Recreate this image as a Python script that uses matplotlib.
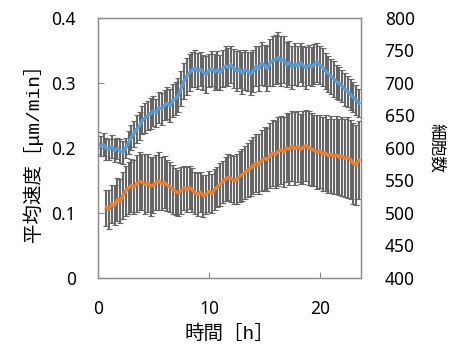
import numpy as np
import matplotlib
matplotlib.use("Agg")
import matplotlib.pyplot as plt

plt.rcParams['font.family'] = ['Noto Sans', 'Noto Sans CJK JP', 'DejaVu Sans']

# time axis [h], 15 min steps
t_speed = np.arange(0, 23.51, 0.25)
t_cells = np.arange(0.75, 23.51, 0.25)

# mean speed [um/min]
speed = [
    0.207, 0.203, 0.205, 0.199, 0.198, 0.202, 0.196, 0.199, 0.195, 0.193,
    0.200, 0.208, 0.216, 0.222, 0.229, 0.234, 0.243, 0.246, 0.250, 0.253,
    0.257, 0.254, 0.262, 0.260, 0.266, 0.269, 0.265, 0.273, 0.276, 0.281,
    0.292, 0.303, 0.310, 0.316, 0.320, 0.322, 0.318, 0.321, 0.316, 0.313,
    0.319, 0.322, 0.317, 0.320, 0.316, 0.322, 0.326, 0.324, 0.328, 0.322,
    0.318, 0.321, 0.315, 0.320, 0.318, 0.314, 0.318, 0.326, 0.322, 0.330,
    0.327, 0.322, 0.331, 0.334, 0.336, 0.339, 0.334, 0.336, 0.328, 0.331,
    0.324, 0.329, 0.326, 0.331, 0.326, 0.323, 0.328, 0.325, 0.329, 0.332,
    0.327, 0.324, 0.318, 0.314, 0.310, 0.306, 0.302, 0.299, 0.295, 0.290,
    0.287, 0.282, 0.278, 0.274, 0.269,
]
speed_err = [
    0.017, 0.016, 0.018, 0.017, 0.016, 0.018, 0.017, 0.016, 0.018, 0.017,
    0.016, 0.018, 0.019,
    0.020, 0.021, 0.022, 0.021, 0.023, 0.022, 0.024, 0.023, 0.022, 0.024,
    0.025, 0.023, 0.024, 0.025, 0.026, 0.025,
    0.026, 0.027, 0.028, 0.029, 0.028, 0.027, 0.029, 0.028, 0.026, 0.027,
    0.028, 0.026, 0.027, 0.028, 0.029, 0.027, 0.028, 0.030, 0.029, 0.028,
    0.030, 0.031, 0.029, 0.032, 0.031, 0.030, 0.033, 0.032, 0.031, 0.034,
    0.033, 0.032, 0.035, 0.036, 0.038, 0.037, 0.039, 0.038, 0.036, 0.035,
    0.034, 0.033, 0.032, 0.031, 0.030, 0.031, 0.032, 0.031, 0.030, 0.031,
    0.030, 0.029,
    0.029, 0.028, 0.028, 0.027, 0.027, 0.026, 0.026, 0.025, 0.025, 0.024,
    0.024, 0.023, 0.023, 0.022,
]

# cell count
cells = [
    508, 506, 514, 512, 521, 518, 527, 534, 538, 542,
    540, 545, 549, 547, 544, 546, 541, 543, 547, 549,
    545, 547, 542, 540, 536, 533, 531, 535, 538, 536,
    539, 535, 531, 528, 532, 526, 529, 533, 530, 536,
    540, 544, 548, 552, 555, 553, 550, 552, 556, 559,
    562, 566, 569, 573, 577, 575, 581, 584, 582, 588,
    592, 590, 595, 597, 594, 600, 598, 603, 599, 602,
    598, 601, 604, 600, 598, 596, 594, 595, 591, 592,
    588, 590, 587, 589, 586, 587, 584, 585, 582, 576,
    574, 581,
]
cells_err = [
    28, 30, 29, 31, 33, 34, 36, 38, 40, 41,
    42, 44, 45, 43, 46, 44, 45, 43, 42, 44, 41, 40, 39, 38, 37, 36,
    35, 36, 34, 35, 33, 34, 32, 33, 31, 32, 30, 31, 30, 32, 31, 33, 32, 34, 35, 36,
    37, 38, 39, 40, 41, 42, 43, 44, 45, 46, 47, 48, 49, 50, 51, 52,
    53, 52, 54, 53, 55, 54, 56, 55, 54, 56, 55, 57, 56, 55, 57, 56,
    57, 58, 57, 59, 58, 60, 59, 61, 60, 62, 61, 63, 62, 60,
]

BLUE = "#5B9BD5"
ORANGE = "#ED7D31"
ERR = "#666666"
FRAME = "#8C8C8C"

fig = plt.figure(figsize=(4.6, 3.44), dpi=100)
ax = fig.add_axes([0.213, 0.192, 0.572, 0.756])
ax2 = ax.twinx()

ax.errorbar(t_speed, speed, yerr=speed_err, fmt="none", ecolor=ERR,
            elinewidth=1.5, capsize=2.2, capthick=0.8, zorder=2)
ax.plot(t_speed, speed, color=BLUE, linewidth=2.4, zorder=3)

ax2.errorbar(t_cells, cells, yerr=cells_err, fmt="none", ecolor=ERR,
             elinewidth=1.5, capsize=2.2, capthick=0.8, zorder=2)
ax2.plot(t_cells, cells, color=ORANGE, linewidth=2.4, zorder=3)

ax.set_xlim(0, 23.7)
ax.set_ylim(0, 0.4)
ax2.set_ylim(400, 800)
ax.set_xticks([0, 10, 20])
ax.set_yticks([0, 0.1, 0.2, 0.3, 0.4])
ax.set_yticklabels(["0", "0.1", "0.2", "0.3", "0.4"])
ax2.set_yticks(np.arange(400, 801, 50))

ax.tick_params(axis="both", direction="in", length=4, width=0.8, color=FRAME,
               labelsize=12.5, pad=16)
ax2.tick_params(axis="y", length=0, labelsize=12.5, pad=17)

for a in (ax, ax2):
    for s in a.spines.values():
        s.set_color(FRAME)
        s.set_linewidth(0.9)

ax.set_ylabel("平均速度［μm/min］", fontsize=14, labelpad=6,
              family=["Liberation Mono", "Noto Sans CJK JP"])
ax.set_xlabel("時間［h］", fontsize=14, labelpad=5,
              family=["Liberation Mono", "Noto Sans CJK JP"])
ax2.set_ylabel("細胞数", fontsize=12, rotation=270, labelpad=22,
               family=["Noto Sans CJK JP"])

fig.savefig("out.png", dpi=100)
